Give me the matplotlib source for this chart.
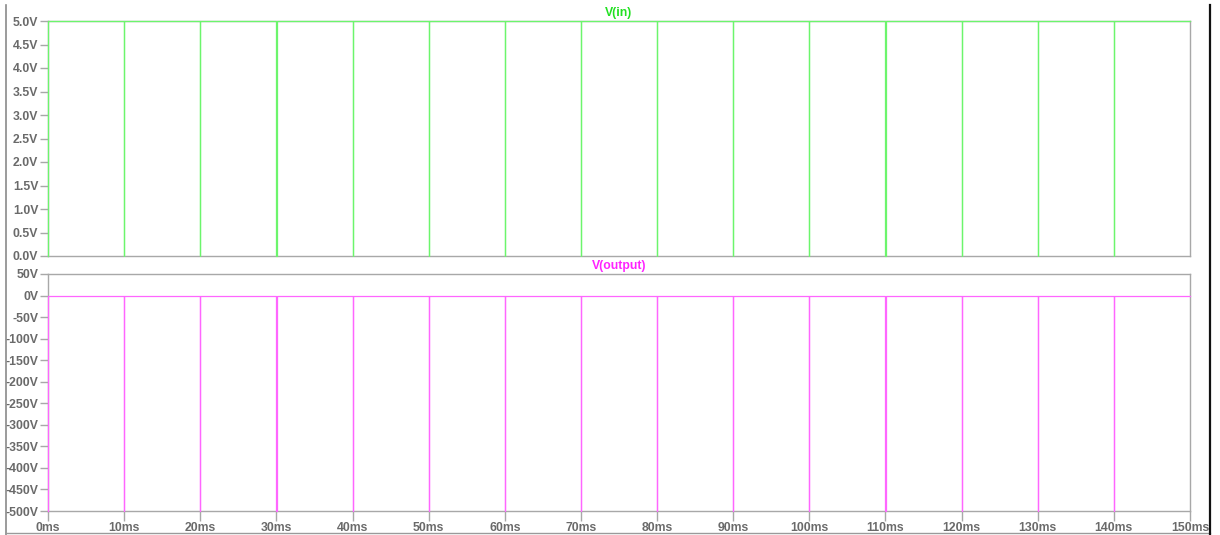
import numpy as np
import matplotlib
matplotlib.use('Agg')
import matplotlib.pyplot as plt
from matplotlib.lines import Line2D

plt.rcParams['font.family'] = ['Liberation Sans', 'DejaVu Sans']

# pulse edges (ms) and levels of the two traces
pulse_ms    = [0, 10, 20, 30, 40, 50, 60, 70, 80, 90, 100, 110, 120, 130, 140]
pulse_w_ms  = 0.02
t_end_ms    = 150
vin_high    = 5.0
vin_low     = 0.0
vout_rest   = 0.0
vout_spike  = -500.0

vin_ticks   = [0.0, 0.5, 1.0, 1.5, 2.0, 2.5, 3.0, 3.5, 4.0, 4.5, 5.0]
vout_ticks  = [50, 0, -50, -100, -150, -200, -250, -300, -350, -400, -450, -500]
time_ticks  = [0, 10, 20, 30, 40, 50, 60, 70, 80, 90, 100, 110, 120, 130, 140, 150]

GREEN_LINE  = '#6cf56c'
GREEN_TEXT  = '#22e022'
MAG_LINE    = '#ff66ff'
MAG_TEXT    = '#ff22ff'
AX_GRAY     = '#a8a8a8'
LBL_GRAY    = '#6a6a6a'


def waveform(edges, rest, peak, width, t_end):
    t, v = [], []
    for e in edges:
        t += [e, e, e + width, e + width]
        v += [rest if e > 0 else peak, peak, peak, rest]
    t.append(t_end)
    v.append(rest)
    return np.array(t), np.array(v)


# input: high with short dips to 0 ; output: 0 with short negative spikes
t_in, v_in = waveform(pulse_ms, vin_high, vin_low, pulse_w_ms, t_end_ms)
v_in[0] = vin_low
t_out, v_out = waveform(pulse_ms, vout_rest, vout_spike, pulse_w_ms, t_end_ms)

fig = plt.figure(figsize=(12.2, 5.35), dpi=100)
fig.patch.set_facecolor('white')
W, H = 1220, 535
x0, x1 = 48, 1190
ax1 = fig.add_axes([x0 / W, 1 - 256 / H, (x1 - x0) / W, (256 - 21) / H])
ax2 = fig.add_axes([x0 / W, 1 - 511 / H, (x1 - x0) / W, (511 - 274) / H])

ax1.plot(t_in, v_in, color=GREEN_LINE, lw=0.9, solid_joinstyle='miter', clip_on=False, zorder=5)
ax2.plot(t_out, v_out, color=MAG_LINE, lw=0.9, solid_joinstyle='miter', clip_on=False, zorder=5)

ax1.set_ylim(0, 5)
ax2.set_ylim(-500, 50)
for ax in (ax1, ax2):
    ax.set_xlim(0, t_end_ms)
    ax.set_facecolor('white')
    for sp in ax.spines.values():
        sp.set_edgecolor(AX_GRAY)
        sp.set_linewidth(1.0)
    ax.tick_params(axis='y', direction='out', length=6, width=1, color=AX_GRAY,
                   pad=1, labelsize=8.8, labelcolor=LBL_GRAY)

ax1.set_yticks(vin_ticks)
ax1.set_yticklabels([f'{v:.1f}V' for v in vin_ticks], fontweight='bold')
ax1.set_xticks([])

ax2.set_yticks(vout_ticks)
ax2.set_yticklabels([f'{v}V' for v in vout_ticks], fontweight='bold')
ax2.set_xticks(time_ticks)
ax2.set_xticklabels([f'{t}ms' for t in time_ticks], fontweight='bold')
ax2.tick_params(axis='x', direction='out', length=7, width=1, color=AX_GRAY,
                pad=1, labelsize=8.8, labelcolor=LBL_GRAY)

ax1.text(0.5, 1.01, 'V(in)', transform=ax1.transAxes, ha='center', va='bottom',
         color=GREEN_TEXT, fontsize=8.8, fontweight='bold')
ax2.text(0.5, 1.01, 'V(output)', transform=ax2.transAxes, ha='center', va='bottom',
         color=MAG_TEXT, fontsize=8.8, fontweight='bold')

# window frame edges
fig.add_artist(Line2D([6 / W, 6 / W], [0.0, 1 - 5 / H], color='#8a8a8a', lw=1.2))
fig.add_artist(Line2D([6 / W, 1210 / W], [1 - 533 / H, 1 - 533 / H], color='#9a9a9a', lw=1.0))
fig.add_artist(Line2D([1210 / W, 1210 / W], [0.0, 1 - 5 / H], color='#111111', lw=1.6))

fig.savefig('out.png', dpi=100, facecolor='white')
